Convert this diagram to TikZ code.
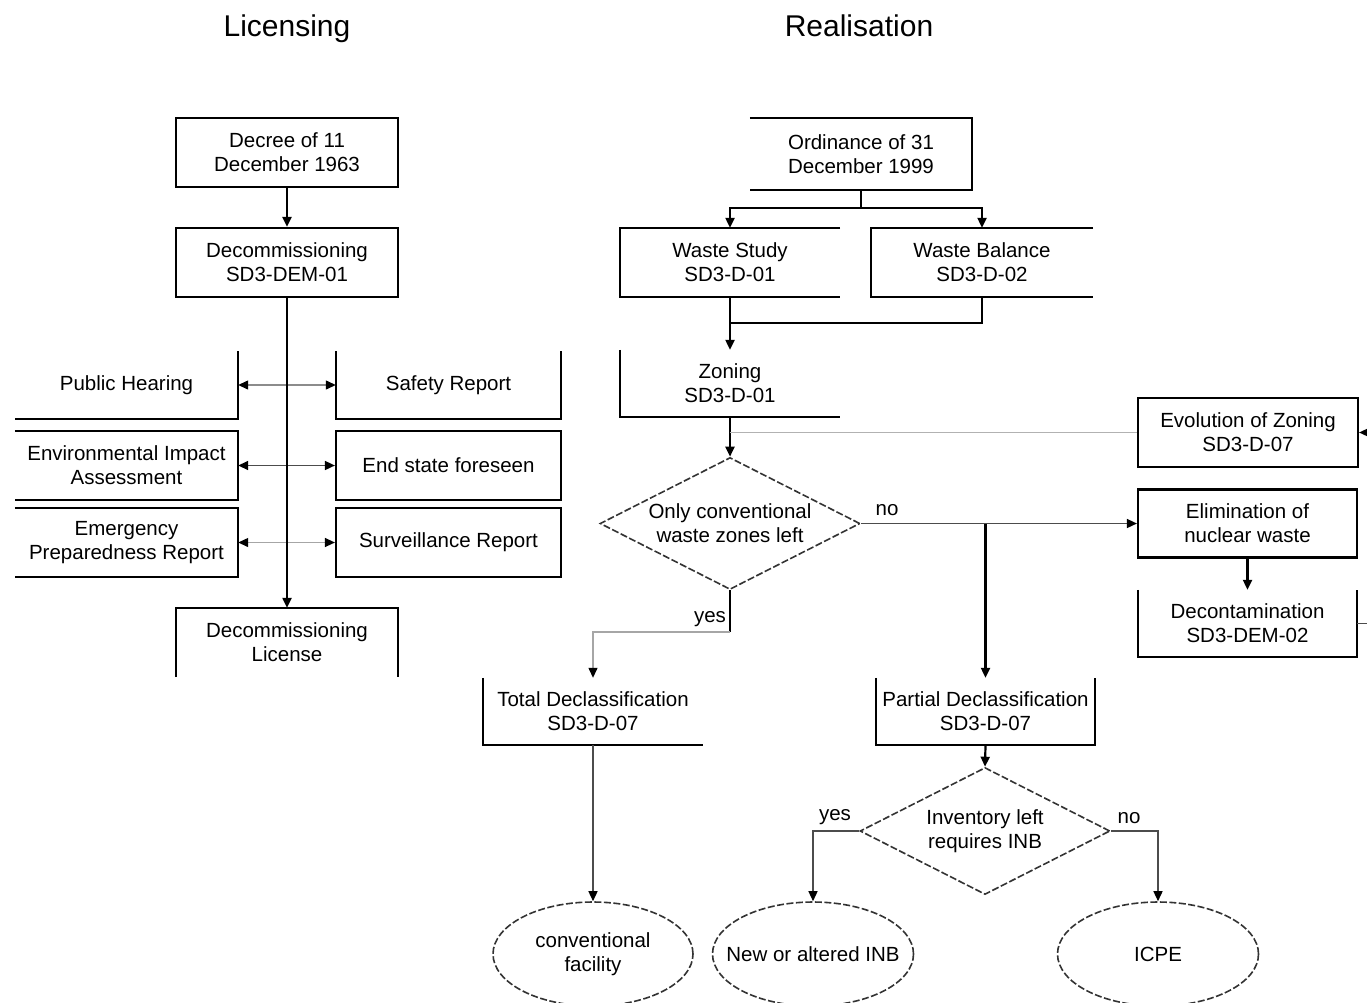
\documentclass[tikz,border=0pt]{standalone}
\usepackage{fontspec}
\setmainfont{Liberation Sans}
\usetikzlibrary{shapes.geometric,arrows.meta}
\newcommand\bxf{\fontsize{20.5}{24}\selectfont}
\newcommand\ttlf{\fontsize{30}{34}\selectfont}
\begin{document}
\begin{tikzpicture}[x=1pt,y=-1pt,
  txt/.style={font=\bxf, align=center, inner sep=0pt, text=black},
  bx/.style={txt, minimum width=#1, minimum height=68pt},
  bx/.default=220pt,
  fullbox/.style={bx=#1, draw=black, line width=2.2pt},
  fullbox/.default=220pt,
  edge/.style={line width=2.2pt, draw=black, line join=miter},
  lite/.style={line width=1.3pt, draw=black!45},
  mid/.style={line width=1.4pt, draw=black!70},
  arr/.style={-{Triangle[length=10pt,width=9pt,color=black]}},
  darr/.style={{Triangle[length=10pt,width=9pt,color=black]}-{Triangle[length=10pt,width=9pt,color=black]}},
  dia/.style={diamond, draw=black!80, line width=1.6pt, dash pattern=on 7pt off 2.5pt, inner sep=0pt},
  ell/.style={ellipse, draw=black!80, line width=1.6pt, dash pattern=on 7pt off 2.5pt, inner sep=0pt, minimum width=200pt, minimum height=104pt},
  lbl/.style={txt}
]
\useasboundingbox (0,0) rectangle (1367,1002);
\fill[white] (0,0) rectangle (1367,1002);
\clip (0,0) rectangle (1367,1002);

% titles
\node[font=\ttlf, anchor=base, inner sep=0pt] (tl) at (287,36) {Licensing};
\node[font=\ttlf, anchor=base, inner sep=0pt] (tr) at (859,36) {Realisation};

% ---------- Licensing ----------
\node[fullbox=222pt, minimum height=69pt] (decree) at (287,152.5) {Decree of 11\\December 1963};
\node[fullbox=222pt, minimum height=69pt] (decom) at (287,262.5) {Decommissioning\\SD3-DEM-01};
\node[bx=222pt, minimum height=69pt] (lic) at (287,642.5) {Decommissioning\\License};
\draw[edge] (lic.south west) -- (lic.north west) -- (lic.north east) -- (lic.south east);

\node[bx=223pt, minimum height=67pt] (ph) at (126.5,385) {Public Hearing};
\draw[edge] (ph.north east) -- (ph.south east) -- (ph.south west);
\node[bx=225pt, minimum height=67pt] (sr) at (448.5,385) {Safety Report};
\draw[edge] (sr.north west) -- (sr.south west) -- (sr.south east) -- (sr.north east);

\node[bx=223pt, minimum height=69pt] (eia) at (126.5,465.5) {Environmental Impact\\Assessment};
\draw[edge] (eia.north west) -- (eia.north east) -- (eia.south east) -- (eia.south west);
\node[fullbox=225pt, minimum height=69pt] (esf) at (448.5,465.5) {End state foreseen};

\node[bx=223pt, minimum height=69pt] (epr) at (126.5,542.5) {Emergency\\Preparedness Report};
\draw[edge] (epr.north west) -- (epr.north east) -- (epr.south east) -- (epr.south west);
\node[fullbox=225pt, minimum height=69pt] (surv) at (448.5,542.5) {Surveillance Report};

\draw[edge,arr] (decree.south) -- (decom.north);
\draw[lite,darr] (ph.east) -- (sr.west);
\draw[mid,line width=1.6pt,darr] (eia.east) -- (esf.west);
\draw[lite,draw=black!35,darr] (epr.east) -- (surv.west);
\draw[edge,arr] (decom.south) -- (lic.north);

% ---------- Realisation ----------
\node[bx=222pt, minimum height=72pt] (ord) at (861,154) {Ordinance of 31\\December 1999};
\draw[edge] (ord.north west) -- (ord.north east) -- (ord.south east) -- (ord.south west);

\node[bx=220pt, minimum height=69pt] (ws) at (730,262.5) {Waste Study\\SD3-D-01};
\draw[edge] (ws.north east) -- (ws.north west) -- (ws.south west) -- (ws.south east);
\node[bx=222pt, minimum height=69pt] (wb) at (982,262.5) {Waste Balance\\SD3-D-02};
\draw[edge] (wb.north east) -- (wb.north west) -- (wb.south west) -- (wb.south east);

\node[bx=220pt, minimum height=67pt] (zon) at (730,383.5) {Zoning\\SD3-D-01};
\draw[edge] (zon.north west) -- (zon.south west) -- (zon.south east);

\node[fullbox=220pt, minimum height=69pt] (evo) at (1248,432.5) {Evolution of Zoning\\SD3-D-07};
\node[fullbox=219pt, minimum height=68pt] (elim) at (1247.5,523.5) {Elimination of\\nuclear waste};
\node[bx=219pt, minimum height=67pt] (deco) at (1247.5,623.5) {Decontamination\\SD3-DEM-02};
\draw[edge] (deco.north west) -- (deco.south west) -- (deco.south east) -- (deco.north east);

\node[dia, minimum width=260pt, minimum height=132pt,
      label={[txt]center:{Only conventional\\waste zones left}}] (d1) at (730,523.5) {};

\node[bx=220pt, minimum height=67pt] (tot) at (593,711.5) {Total Declassification\\SD3-D-07};
\draw[edge] (tot.north west) -- (tot.south west) -- (tot.south east);
\node[bx=219pt, minimum height=67pt] (par) at (985.5,711.5) {Partial Declassification\\SD3-D-07};
\draw[edge] (par.north west) -- (par.south west) -- (par.south east) -- (par.north east);

\node[dia, minimum width=250pt, minimum height=127pt,
      label={[txt]center:{Inventory left\\requires INB}}] (d2) at (985,831) {};

\node[ell, label={[txt]center:{conventional\\facility}}] (cf) at (593,954) {};
\node[ell, minimum width=201pt, label={[txt]center:{New or altered INB}}] (inb) at (813,954) {};
\node[ell, minimum width=201pt, label={[txt]center:{ICPE}}] (icpe) at (1158,954) {};

% junction points
\coordinate (ordj) at (861,208);
\coordinate (wsj) at (730,323);
\coordinate (zj) at (730,432.5);
\coordinate (noj) at (985.5,523.5);
\coordinate (yj) at (730,632);
\coordinate (loopx) at (1400,0);
\coordinate (yj2) at (813,831);
\coordinate (nj2) at (1158,831);

% connectors
\draw[edge] (ord.south) -- (ordj);
\draw[edge,arr] (ordj) -| (ws.north);
\draw[edge,arr] (ordj) -| (wb.north);
\draw[edge,arr] (ws.south) -- (zon.north);
\draw[edge] (wb.south) |- (wsj);
\draw[edge,arr] (zon.south) -- (d1.north);
\draw[lite,draw=black!30] (evo.west) -- (zj);
\draw[mid,line width=1.6pt,arr] (d1.east) -- (elim.west);
\draw[edge,arr] (noj) -- (par.north);
\draw[edge] (d1.south) -- (yj);
\draw[lite,draw=black!35,arr] (yj) -| (tot.north);
\draw[edge,arr] (elim.south) -- (deco.north);
\draw[mid,arr] (deco.east) -- (loopx |- deco.east) -- (loopx |- evo.east) -- (evo.east);
\draw[mid,arr] (tot.south) -- (cf.north);
\draw[edge,arr] (par.south) -- (d2.north);
\draw[mid,arr] (d2.west) -- (yj2) -- (inb.north);
\draw[mid,arr] (d2.east) -- (nj2) -- (icpe.north);

% labels
\node[lbl] (lno1) at (887,510) {no};
\node[lbl] (lyes1) at (710,619) {yes};
\node[lbl] (lyes2) at (835,817) {yes};
\node[lbl] (lno2) at (1129,818) {no};
\end{tikzpicture}
\end{document}
